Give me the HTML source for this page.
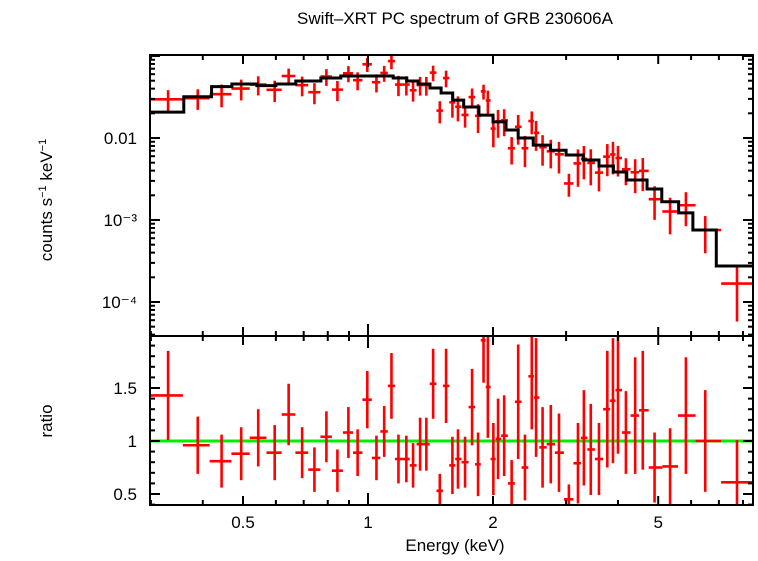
<!DOCTYPE html>
<html><head><meta charset="utf-8"><style>
body{margin:0;background:#fff}
svg text{font-family:"Liberation Sans",sans-serif;fill:#000}
</style></head><body>
<svg id="chart" width="758" height="556" viewBox="0 0 758 556" xmlns="http://www.w3.org/2000/svg">
<rect width="758" height="556" fill="#fff"/>
<text x="455" y="24" font-size="17" text-anchor="middle">Swift–XRT PC spectrum of GRB 230606A</text>
<text transform="translate(52,200) rotate(-90)" font-size="17" text-anchor="middle">counts s<tspan font-size="11" dy="-6">−1</tspan><tspan dy="6"> keV</tspan><tspan font-size="11" dy="-6">−1</tspan></text>
<text transform="translate(52,421) rotate(-90)" font-size="17" text-anchor="middle">ratio</text>
<text x="455" y="551" font-size="17" text-anchor="middle">Energy (keV)</text>
<g id="g"></g>
</svg>
<script>
const modelEdges=[0.30,0.36,0.42,0.47,0.54,0.60,0.67,0.77,0.86,1.15,1.24,1.32,1.41,1.5,1.6,1.7,1.85,2.0,2.15,2.3,2.5,2.75,3.0,3.3,3.6,3.9,4.2,4.7,5.1,5.6,6.06,6.9,9.0];
const modelValues=[0.0207,0.0319,0.0423,0.0456,0.0435,0.0456,0.0496,0.054,0.057,0.054,0.0496,0.0456,0.0407,0.0354,0.029,0.0239,0.019,0.0157,0.0125,0.01,0.0082,0.0071,0.0062,0.0054,0.00456,0.00385,0.00308,0.00239,0.00167,0.00122,0.000755,0.000275];
const energies=[0.330,0.389,0.444,0.495,0.544,0.596,0.644,0.694,0.743,0.794,0.844,0.897,0.944,0.996,1.048,1.094,1.139,1.184,1.237,1.284,1.335,1.382,1.435,1.489,1.542,1.597,1.647,1.713,1.781,1.841,1.898,1.944,2.004,2.057,2.128,2.218,2.30,2.388,2.48,2.54,2.633,2.756,2.884,3.047,3.204,3.311,3.44,3.6,3.77,3.89,4.0,4.18,4.40,4.59,4.9,5.34,5.83,6.49,7.74];
const ratios=[1.43,0.96,0.81,0.88,1.03,0.89,1.25,0.89,0.73,1.04,0.72,1.08,0.89,1.39,0.84,1.09,1.52,0.83,0.83,0.77,0.97,0.97,1.54,0.53,1.52,0.77,0.83,0.80,1.32,0.78,1.95,1.51,0.83,1.02,1.05,0.60,1.37,0.75,1.61,1.41,0.94,0.97,0.89,0.45,0.79,1.03,0.92,0.83,1.30,1.38,1.48,1.08,1.24,1.29,0.75,0.76,1.24,1.0,0.61];
const ratioErrs=[0.42,0.27,0.25,0.25,0.27,0.26,0.29,0.24,0.21,0.24,0.2,0.24,0.22,0.27,0.21,0.24,0.31,0.23,0.22,0.21,0.25,0.25,0.33,0.16,0.35,0.27,0.28,0.24,0.36,0.3,0.4,0.48,0.34,0.38,0.38,0.22,0.54,0.31,0.5,0.56,0.38,0.37,0.37,0.14,0.38,0.45,0.43,0.34,0.55,0.59,0.6,0.39,0.55,0.56,0.33,0.36,0.55,0.48,0.4];
const xTickMajor=[0.5,1,2,5];
const xTickMinor=[0.3,0.4,0.6,0.7,0.8,0.9,3,4,6,7,8];
const yTickLabelsTop=["10⁻⁴","10⁻³","0.01"];
const ratioTicks=[0.5,1,1.5];

const NS="http://www.w3.org/2000/svg";
const G=document.getElementById('g');
const L=150,R=753,T1=55,B1=336,T2=336,B2=505;
const xs=e=>368+415.2*Math.log10(e);
const ys=f=>138-82*(Math.log10(f)+2);
const yr=r=>441-106*(r-1);
function mk(tag,a,parent){const el=document.createElementNS(NS,tag);for(const k in a)el.setAttribute(k,a[k]);(parent||G).appendChild(el);return el;}
const defs=mk('defs',{});
const c1=mk('clipPath',{id:'c1'},defs);mk('rect',{x:L,y:T1,width:R-L,height:B1-T1},c1);
const c2=mk('clipPath',{id:'c2'},defs);mk('rect',{x:L,y:T2,width:R-L,height:B2-T2},c2);
const p1=mk('g',{'clip-path':'url(#c1)'});


const p2=mk('g',{'clip-path':'url(#c2)'});


function modelAt(e){for(let i=0;i<modelValues.length;i++){if(e>=modelEdges[i]&&e<modelEdges[i+1])return modelValues[i];}return modelValues[modelValues.length-1];}
const lo=[],hi=[];
for(let i=0;i<energies.length;i++){
 lo.push(i===0?0.298:Math.sqrt(energies[i-1]*energies[i]));
 hi.push(i===energies.length-1?8.7:Math.sqrt(energies[i]*energies[i+1]));
}
const gl=mk('line',{x1:L,x2:R,y1:yr(1),y2:yr(1),stroke:'#00ee00','stroke-width':3},p2);


for(let i=0;i<energies.length;i++){
 const m=modelAt(energies[i]);const f=m*ratios[i];const fe=m*ratioErrs[i];
 const x=xs(energies[i]);
 const g1=mk('g',{stroke:'#ff0000','stroke-width':2.6,fill:'none'},p1);
 
 
 mk('line',{x1:xs(lo[i]),x2:xs(hi[i]),y1:ys(f),y2:ys(f)},g1);
 mk('line',{x1:x,x2:x,y1:ys(f+fe),y2:ys(Math.max(f-fe,1e-6))},g1);
 const g2=mk('g',{stroke:'#ff0000','stroke-width':2.6,fill:'none'},p2);
 
 
 mk('line',{x1:xs(lo[i]),x2:xs(hi[i]),y1:yr(ratios[i]),y2:yr(ratios[i])},g2);
 mk('line',{x1:x,x2:x,y1:yr(ratios[i]+ratioErrs[i]),y2:yr(ratios[i]-ratioErrs[i])},g2);
}
let d='';
for(let i=0;i<modelValues.length;i++){
 const y=ys(modelValues[i]);
 d+=(i===0?'M':'L')+xs(modelEdges[i])+','+y+'L'+xs(modelEdges[i+1])+','+y;
}
const mp=mk('path',{d:d,stroke:'#000','stroke-width':3,fill:'none'},p1);


const f1=mk('rect',{x:L,y:T1,width:R-L,height:B1-T1,fill:'none',stroke:'#000','stroke-width':2});


const f2=mk('rect',{x:L,y:T2,width:R-L,height:B2-T2,fill:'none',stroke:'#000','stroke-width':2});


const ax=mk('g',{stroke:'#000','stroke-width':2});


function tk(x1,y1,x2,y2){mk('line',{x1,y1,x2,y2},ax);}
xTickMajor.concat(xTickMinor).forEach(e=>{
 const maj=xTickMajor.includes(e);const len=maj?(e===1?12:9):5;const x=xs(e);
 tk(x,T1,x,T1+len);tk(x,B1,x,B1-len);tk(x,T2,x,T2+len);tk(x,B2,x,B2-len);
});
xTickMajor.forEach(e=>{
 const t=mk('text',{x:xs(e),y:528,'font-size':17,'text-anchor':'middle'});t.textContent=String(e);
 
 
});
for(let dec=-5;dec<=-1;dec++){
 for(let k=1;k<10;k++){
  const v=k*Math.pow(10,dec);const y=ys(v);if(y<T1-0.5||y>B1+0.5)continue;
  const len=k===1?10:5;tk(L,y,L+len,y);tk(R,y,R-len,y);
 }
}
[1e-4,1e-3,1e-2].forEach((v,i)=>{
 const t=mk('text',{x:137,y:ys(v)+6,'font-size':17,'text-anchor':'end'});t.textContent=yTickLabelsTop[i];
 
 
});
for(let r=0.4;r<=2.0;r+=0.1){
 const y=yr(r);if(y<T2||y>B2)continue;
 const maj=Math.abs(r*2-Math.round(r*2))<1e-6;const len=maj?10:5;tk(L,y,L+len,y);tk(R,y,R-len,y);
}
ratioTicks.forEach(r=>{
 const t=mk('text',{x:137,y:yr(r)+6,'font-size':17,'text-anchor':'end'});t.textContent=String(r);
 
 
});
</script>
</body></html>
